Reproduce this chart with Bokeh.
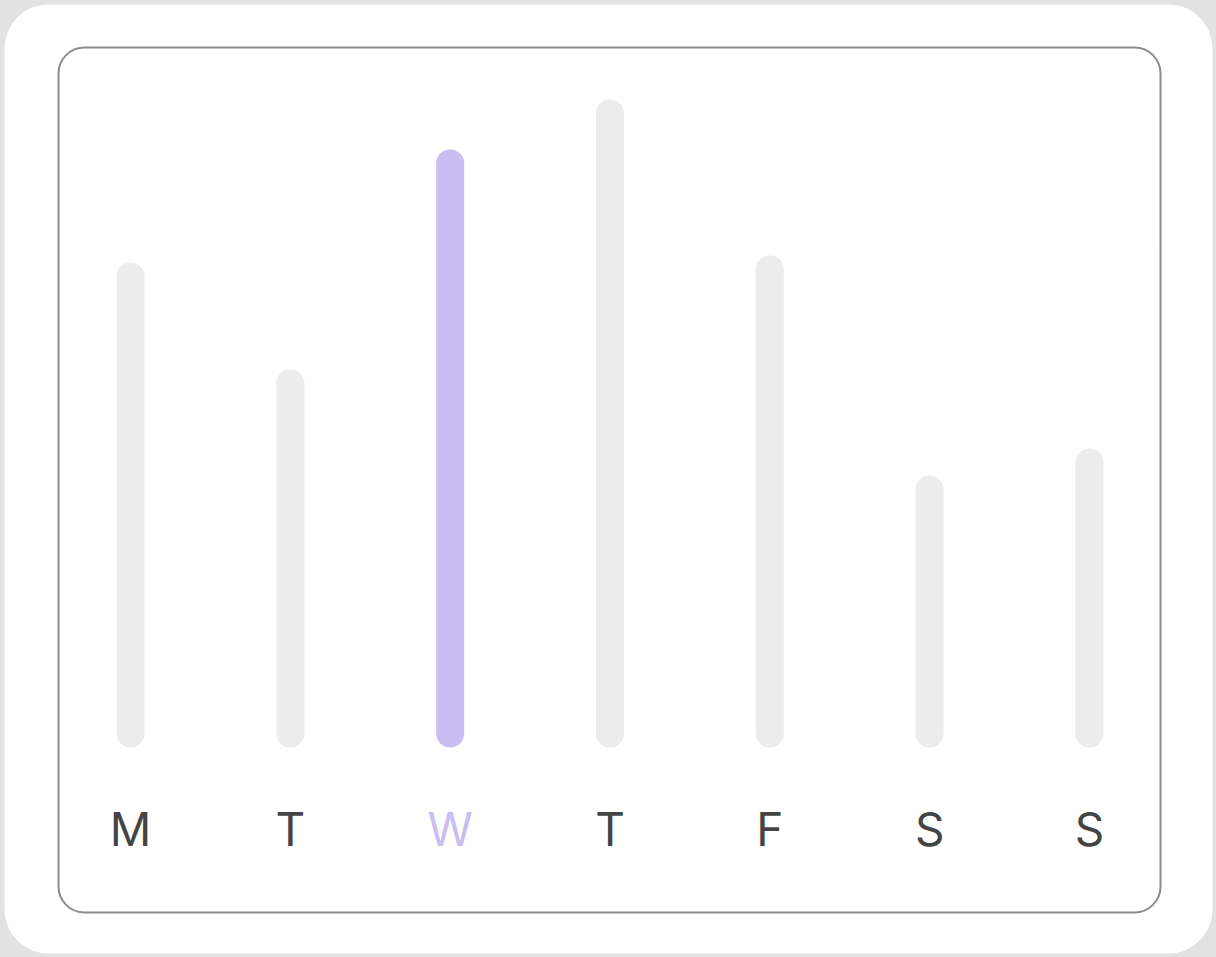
from bokeh.plotting import figure
from bokeh.models import Range1d, ColumnDataSource
from bokeh.core.properties import value
from bokeh.embed import file_html
from bokeh.resources import INLINE

# ---- data ----
days = ["M", "T", "W", "T", "F", "S", "S"]
activity = [48.5, 37.8, 59.8, 64.8, 49.2, 27.2, 29.9]
highlight_index = 2

BAR_GRAY = "#ececec"
HILITE = "#c9bdf1"
LABEL = "#444444"
BG = "#e2e2e2"

W, H = 1216, 957
# data ranges: one day step ~160px, one value unit = 10px
x_start, x_end = -0.8134, 6.7947
y_start, y_end = -21.0, 74.7
sx = W / (x_end - x_start)
sy = H / (y_end - y_start)


def px_to_x(px):
    return x_start + px / sx


def py_to_y(py):
    return y_end - py / sy


p = figure(width=W, height=H, output_backend="svg", toolbar_location=None,
           x_range=Range1d(x_start, x_end), y_range=Range1d(y_start, y_end),
           min_border=0, min_border_left=0, min_border_right=0,
           min_border_top=0, min_border_bottom=0)
p.axis.visible = False
p.grid.visible = False
p.outline_line_color = None
p.background_fill_color = BG
p.border_fill_color = BG

# white card
p.rect(x=px_to_x(608), y=py_to_y(478.5), width=1208, height=949,
       width_units="screen", height_units="screen",
       fill_color="white", line_color=None, border_radius=44)
# inner framed panel
p.rect(x=px_to_x(609), y=py_to_y(479.5), width=1102, height=865,
       width_units="screen", height_units="screen",
       fill_color="white", line_color="#8c8c8c", line_width=2, border_radius=26)

xs = list(range(len(days)))
colors = [HILITE if i == highlight_index else BAR_GRAY for i in xs]
label_colors = [HILITE if i == highlight_index else LABEL for i in xs]
src = ColumnDataSource(dict(x=xs, top=activity, color=colors, lc=label_colors, day=days))

p.vbar(x="x", top="top", bottom=0, width=28 / sx, source=src,
       fill_color="color", line_color=None, border_radius=14)

p.text(x="x", y=-8.1, text="day", source=src, text_color="lc",
       text_font=value("Inter"), text_font_size="46px",
       text_align="center", text_baseline="alphabetic")

html = file_html(p, INLINE)
html = html.replace("<head>", "<head><style>html,body{background:%s;}</style>" % BG, 1)
open("out.html", "w").write(html)
